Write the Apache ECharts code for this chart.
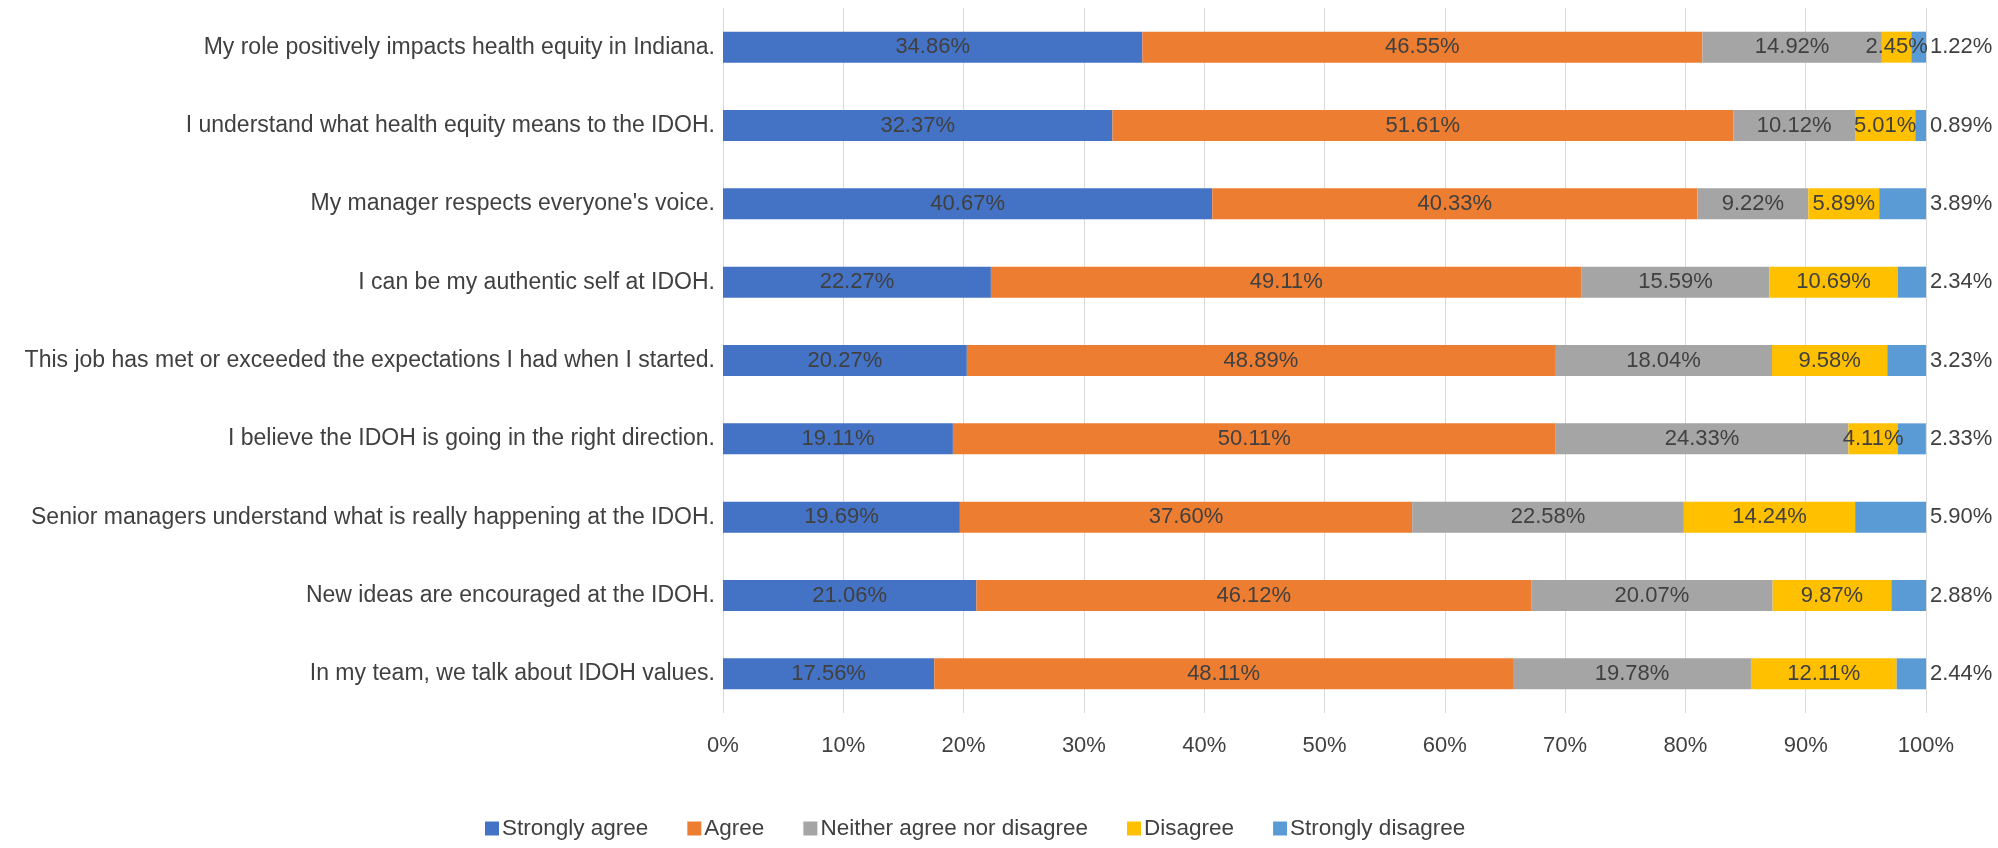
<!DOCTYPE html>
<html>
<head>
<meta charset="utf-8">
<script src="https://cdn.jsdelivr.net/npm/echarts@6/dist/echarts.min.js"></script>
<style>
html,body{margin:0;padding:0;background:#fff;}
#chart{width:1998px;height:848px;}
</style>
</head>
<body>
<div id="chart"></div>
<script>
const categories = [
  "My role positively impacts health equity in Indiana.",
  "I understand what health equity means to the IDOH.",
  "My manager respects everyone's voice.",
  "I can be my authentic self at IDOH.",
  "This job has met or exceeded the expectations I had when I started.",
  "I believe the IDOH is going in the right direction.",
  "Senior managers understand what is really happening at the IDOH.",
  "New ideas are encouraged at the IDOH.",
  "In my team, we talk about IDOH values."
];
const seriesNames = ["Strongly agree", "Agree", "Neither agree nor disagree", "Disagree", "Strongly disagree"];
const stronglyAgree = [34.86, 32.37, 40.67, 22.27, 20.27, 19.11, 19.69, 21.06, 17.56];
const agree = [46.55, 51.61, 40.33, 49.11, 48.89, 50.11, 37.60, 46.12, 48.11];
const neither = [14.92, 10.12, 9.22, 15.59, 18.04, 24.33, 22.58, 20.07, 19.78];
const disagree = [2.45, 5.01, 5.89, 10.69, 9.58, 4.11, 14.24, 9.87, 12.11];
const stronglyDisagree = [1.22, 0.89, 3.89, 2.34, 3.23, 2.33, 5.90, 2.88, 2.44];
const tickValues = [0, 10, 20, 30, 40, 50, 60, 70, 80, 90, 100];

const colors = ["#4472C4", "#ED7D31", "#A5A5A5", "#FFC000", "#5B9BD5"];
const FONT = "'Liberation Sans', Arial, sans-serif";
const TXT = "#404040";
const allData = [stronglyAgree, agree, neither, disagree, stronglyDisagree];

const chart = echarts.init(document.getElementById('chart'), null, {renderer: 'canvas'});
const series = seriesNames.map((name, i) => ({
  name: name,
  type: 'bar',
  stack: 'total',
  barWidth: 31,
  data: allData[i],
  itemStyle: {color: colors[i]},
  label: {
    show: true,
    position: i === 4 ? 'right' : 'inside',
    distance: 4,
    formatter: p => p.value.toFixed(2) + '%',
    color: TXT,
    fontFamily: FONT,
    fontSize: 22
  }
}));

chart.setOption({
  animation: false,
  backgroundColor: '#ffffff',
  textStyle: {fontFamily: FONT},
  grid: {left: 723, right: 72, top: 8, bottom: 135, containLabel: false, outerBoundsMode: 'none'},
  xAxis: {
    type: 'value',
    min: tickValues[0],
    max: tickValues[tickValues.length - 1],
    interval: 10,
    axisLine: {show: false},
    axisTick: {show: false},
    splitLine: {show: true, lineStyle: {color: '#D9D9D9', width: 1}},
    axisLabel: {formatter: '{value}%', color: TXT, fontFamily: FONT, fontSize: 22, margin: 22}
  },
  yAxis: {
    type: 'category',
    inverse: true,
    data: categories,
    axisLine: {show: false},
    axisTick: {show: false},
    axisLabel: {color: TXT, fontFamily: FONT, fontSize: 23, margin: 8}
  },
  legend: {
    bottom: 3,
    left: 480,
    itemWidth: 14,
    itemHeight: 14,
    itemGap: 39,
    icon: 'rect',
    textStyle: {color: TXT, fontFamily: FONT, fontSize: 22.5, padding: [0, 0, 0, -2]},
    data: seriesNames
  },
  series: series
});
</script>
</body>
</html>
